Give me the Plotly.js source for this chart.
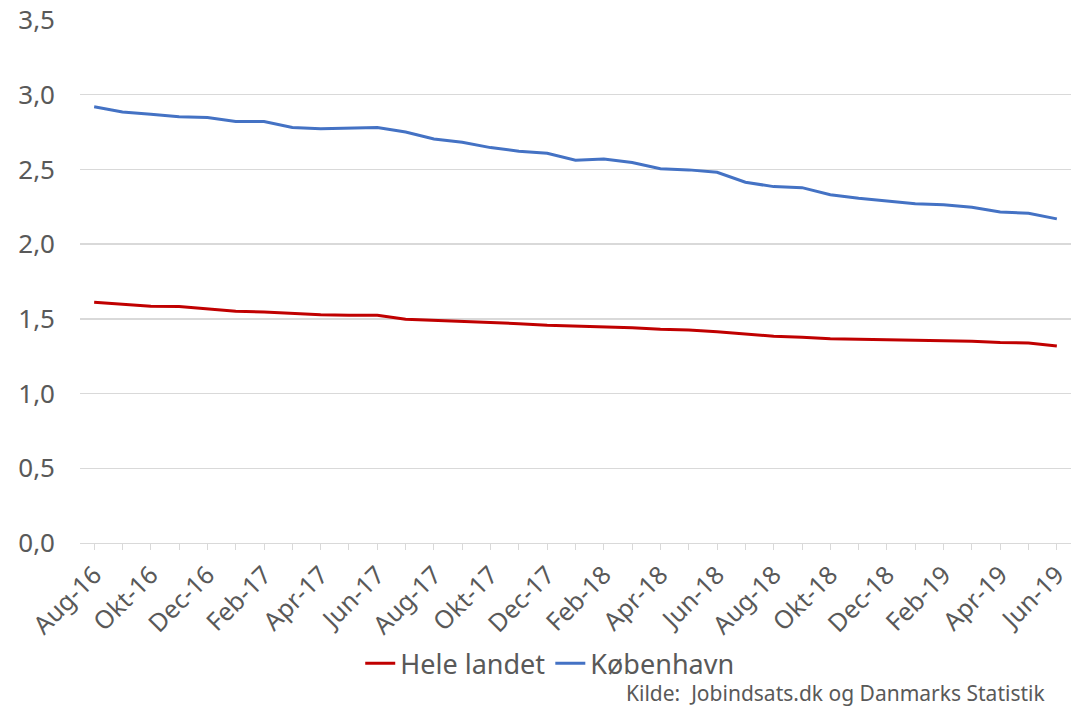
<!DOCTYPE html>
<html>
<head>
<meta charset="utf-8">
<script src="https://cdn.plot.ly/plotly-3.0.1.min.js"></script>
<style>html,body{margin:0;padding:0;background:#fff;}#chart{width:1073px;height:707px;}</style>
</head>
<body>
<div id="chart"></div>
<script>
const months = ["Aug-16","Sep-16","Okt-16","Nov-16","Dec-16","Jan-17","Feb-17","Mar-17","Apr-17","Maj-17","Jun-17",
  "Jul-17","Aug-17","Sep-17","Okt-17","Nov-17","Dec-17","Jan-18","Feb-18","Mar-18","Apr-18","Maj-18","Jun-18",
  "Jul-18","Aug-18","Sep-18","Okt-18","Nov-18","Dec-18","Jan-19","Feb-19","Mar-19","Apr-19","Maj-19","Jun-19"];
const tickLabels = ["Aug-16","","Okt-16","","Dec-16","","Feb-17","","Apr-17","","Jun-17",
  "","Aug-17","","Okt-17","","Dec-17","","Feb-18","","Apr-18","","Jun-18",
  "","Aug-18","","Okt-18","","Dec-18","","Feb-19","","Apr-19","","Jun-19"];
const heleLandet = [1.611,1.598,1.584,1.582,1.566,1.551,1.546,1.537,1.528,1.524,1.524,
  1.497,1.490,1.481,1.473,1.468,1.457,1.452,1.446,1.441,1.430,1.426,1.414,
  1.397,1.384,1.377,1.367,1.363,1.359,1.354,1.354,1.350,1.341,1.339,1.319];
const koebenhavn = [2.920,2.885,2.870,2.853,2.847,2.820,2.820,2.780,2.773,2.778,2.780,
  2.750,2.704,2.682,2.646,2.622,2.608,2.561,2.570,2.546,2.505,2.497,2.481,
  2.414,2.385,2.378,2.331,2.307,2.291,2.271,2.264,2.247,2.215,2.207,2.169];
const yTicks = [0,0.5,1,1.5,2,2.5,3,3.5];
const yTickText = ["0,0","0,5","1,0","1,5","2,0","2,5","3,0","3,5"];
const sourceText = "Kilde:  Jobindsats.dk og Danmarks Statistik";

const FONT = "Noto Sans, sans-serif";
const GREY = "#595959";

const traces = [
  {x: months, y: heleLandet, name: "Hele landet", type: "scatter", mode: "lines",
   line: {color: "#C00000", width: 3}},
  {x: months, y: koebenhavn, name: "København", type: "scatter", mode: "lines",
   line: {color: "#4472C4", width: 3}}
];

const layout = {
  width: 1073, height: 707,
  margin: {l: 80, r: 2, t: 20, b: 164},
  paper_bgcolor: "#fff", plot_bgcolor: "#fff",
  font: {family: FONT, color: GREY},
  showlegend: true,
  legend: {orientation: "h", x: 0.474, xanchor: "center", y: -0.184, yanchor: "top",
    font: {size: 27, color: GREY, family: FONT}, itemwidth: 30, tracegroupgap: 0},
  xaxis: {
    type: "category", range: [-0.5, 34.5],
    tickmode: "array", tickvals: months, ticktext: tickLabels,
    tickangle: -45, tickfont: {size: 25, color: GREY, family: FONT},
    ticks: "outside", ticklen: 6, tickcolor: "#d9d9d9", tickwidth: 1,
    showgrid: false, showline: true, linecolor: "#d9d9d9", linewidth: 1.3,
    zeroline: false, fixedrange: true
  },
  yaxis: {
    range: [0, 3.5], tickmode: "array", tickvals: yTicks, ticktext: yTickText,
    tickfont: {size: 26, color: GREY, family: FONT},
    showgrid: true, gridcolor: "#d9d9d9", gridwidth: 1.3,
    zeroline: false, showline: false, ticks: "", ticklabelstandoff: 24, fixedrange: true
  },
  annotations: [
    {text: sourceText, xref: "paper", yref: "paper", x: 0.976, xanchor: "right",
     y: -0.286, yanchor: "middle", showarrow: false,
     font: {size: 21, color: GREY, family: FONT}}
  ]
};

Plotly.newPlot("chart", traces, layout, {displayModeBar: false, staticPlot: true});
</script>
</body>
</html>
